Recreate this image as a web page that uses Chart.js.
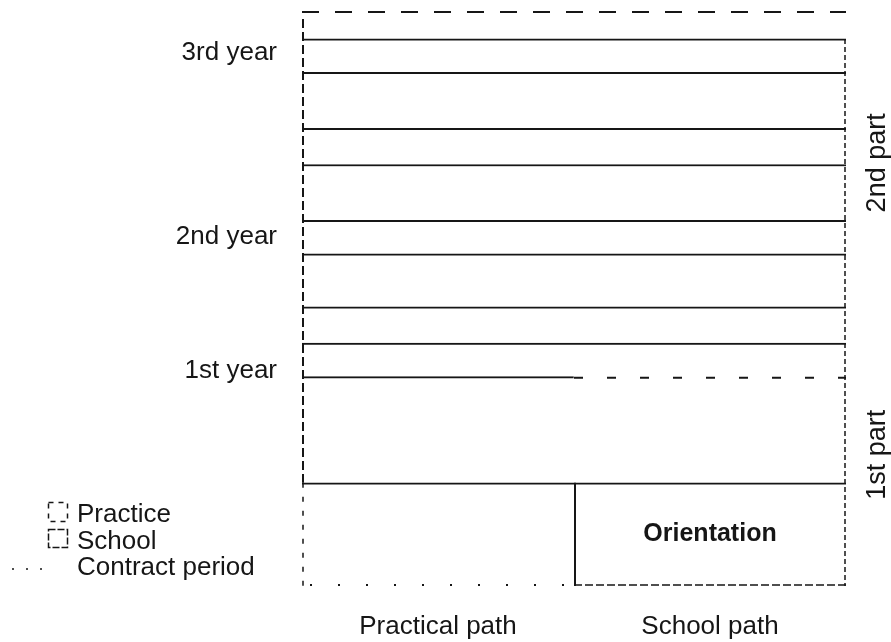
<!DOCTYPE html>
<html>
<head>
<meta charset="utf-8">
<script src="https://cdn.jsdelivr.net/npm/chart.js@4.4.1/dist/chart.umd.min.js"></script>
<style>
  html, body { margin: 0; padding: 0; background: #fff; }
</style>
</head>
<body>
<canvas id="paths" width="891" height="642"></canvas>
<script>
// two paths side by side, bands stacked from the bottom up
const paths = ["Practical path", "School path"];
const bandNames = ["Contract period / Orientation", "Practice", "School", "School", "Practice",
                   "School", "Practice", "School", "Practice", "School", "Practice"];
const practicalValues = [18.5, 19, 6, 6.5, 9.5, 6, 10, 6.5, 10, 6, 5];
const schoolValues = [18.5, 19, 6, 6.5, 9.5, 6, 10, 6.5, 10, 6, 5];

const yearTicks = [38.5, 62.5, 95.5];
const yearLabels = ["1st year", "2nd year", "3rd year"];
const partTicks = [23.5, 75.8];
const partLabels = ["1st part", "2nd part"];
const legendLabels = ["Practice", "School", "Contract period"];
const orientationLabel = "Orientation";

const ink = "#161616";
const family = '"Liberation Sans", Arial, Helvetica, sans-serif';

Chart.defaults.font.family = family;
Chart.defaults.color = ink;

function stroke(ctx, x1, y1, x2, y2, dash, width) {
    ctx.save();
    ctx.strokeStyle = ink;
    ctx.lineWidth = width;
    ctx.setLineDash(dash);
    ctx.beginPath();
    ctx.moveTo(x1, y1);
    ctx.lineTo(x2, y2);
    ctx.stroke();
    ctx.restore();
}

// the dashed / dotted edges that bar borders can't do
const outline = {
    id: "outline",
    afterDatasetsDraw(chart) {
        const ctx = chart.ctx;
        const n = chart.data.datasets.length;
        const base = chart.getDatasetMeta(0).data;
        const firstBand = chart.getDatasetMeta(1).data;
        const topBand = chart.getDatasetMeta(n - 1).data;
        const belowTop = chart.getDatasetMeta(n - 2).data;

        const left = base[0].x - base[0].width / 2;
        const mid = base[1].x - base[1].width / 2;
        const right = base[1].x + base[1].width / 2;

        stroke(ctx, left, topBand[0].y + 1, right, topBand[0].y + 1, [17, 16], 2);
        stroke(ctx, mid, firstBand[1].y + 1, right, firstBand[1].y + 1, [9, 24], 2);
        stroke(ctx, left + 8, base[0].base - 1, mid, base[0].base - 1, [2, 26], 2);
        stroke(ctx, mid, base[1].base - 1, right, base[1].base - 1, [8, 3], 1.5);
        stroke(ctx, mid + 1, base[1].y, mid + 1, base[1].base, [], 2);
        stroke(ctx, left + 1, topBand[0].y + 8, left + 1, base[0].y, [9, 4], 2);
        stroke(ctx, left + 1, base[0].y, left + 1, base[0].base, [5, 9], 1.5);
        stroke(ctx, right - 1, belowTop[1].y, right - 1, base[1].base, [5, 3], 1.5);

        const c = base[1].getCenterPoint();
        ctx.save();
        ctx.fillStyle = ink;
        ctx.font = "bold 25px " + family;
        ctx.textAlign = "center";
        ctx.textBaseline = "middle";
        ctx.fillText(orientationLabel, c.x, c.y);
        ctx.restore();
    },
    afterDraw(chart) {
        const ctx = chart.ctx;
        const y = chart.scales.y;
        ctx.save();
        ctx.fillStyle = ink;
        ctx.font = "27px " + family;

        // "1st part" / "2nd part" on the right, rotated
        ctx.textAlign = "center";
        ctx.textBaseline = "alphabetic";
        partTicks.forEach((v, i) => {
            ctx.save();
            ctx.translate(chart.chartArea.right + 39, y.getPixelForValue(v));
            ctx.rotate(-Math.PI / 2);
            ctx.fillText(partLabels[i], 0, 0);
            ctx.restore();
        });

        // legend, bottom left
        ctx.font = "26px " + family;
        ctx.textAlign = "left";
        legendLabels.forEach((t, i) => ctx.fillText(t, 77, 522 + i * 26.5));
        ctx.lineWidth = 1.5;
        ctx.strokeStyle = ink;
        ctx.setLineDash([5, 5]);
        ctx.strokeRect(48.5, 502.5, 19, 19);
        ctx.setLineDash([7, 2]);
        ctx.strokeRect(48.5, 529.5, 19, 18);
        ctx.setLineDash([2, 12]);
        ctx.beginPath();
        ctx.moveTo(12, 569);
        ctx.lineTo(46, 569);
        ctx.stroke();
        ctx.restore();
    }
};

const n = bandNames.length;
const datasets = bandNames.map((name, i) => ({
    label: name,
    data: [practicalValues[i], schoolValues[i]],
    backgroundColor: "#ffffff",
    borderColor: ink,
    borderWidth: ctx => {
        const dashedTop = i === n - 1 || (i === 1 && ctx.dataIndex === 1);
        return { top: dashedTop ? 0 : 2, left: 0, right: 0, bottom: 0 };
    },
    categoryPercentage: 1,
    barPercentage: 1
}));

new Chart(document.getElementById("paths"), {
    type: "bar",
    data: { labels: paths, datasets },
    options: {
        responsive: false,
        animation: false,
        layout: { padding: { top: 11, right: 45, bottom: 0, left: 0 } },
        plugins: {
            legend: { display: false },
            tooltip: { enabled: false }
        },
        scales: {
            x: {
                stacked: true,
                grid: { display: false, drawTicks: false },
                border: { display: false },
                ticks: { font: { size: 26 }, padding: 25 },
                afterFit: s => { s.height = 56; s.paddingLeft = 0; s.paddingRight = 0; }
            },
            y: {
                stacked: true,
                min: 0,
                max: 103,
                grid: { display: false, drawTicks: false },
                border: { display: false },
                afterBuildTicks: s => { s.ticks = yearTicks.map(v => ({ value: v })); },
                ticks: {
                    font: { size: 26 },
                    padding: 25,
                    callback: (value, index) => yearLabels[index]
                },
                afterFit: s => { s.width = 302; s.paddingTop = 0; s.paddingBottom = 0; }
            }
        }
    },
    plugins: [outline]
});
</script>
</body>
</html>
